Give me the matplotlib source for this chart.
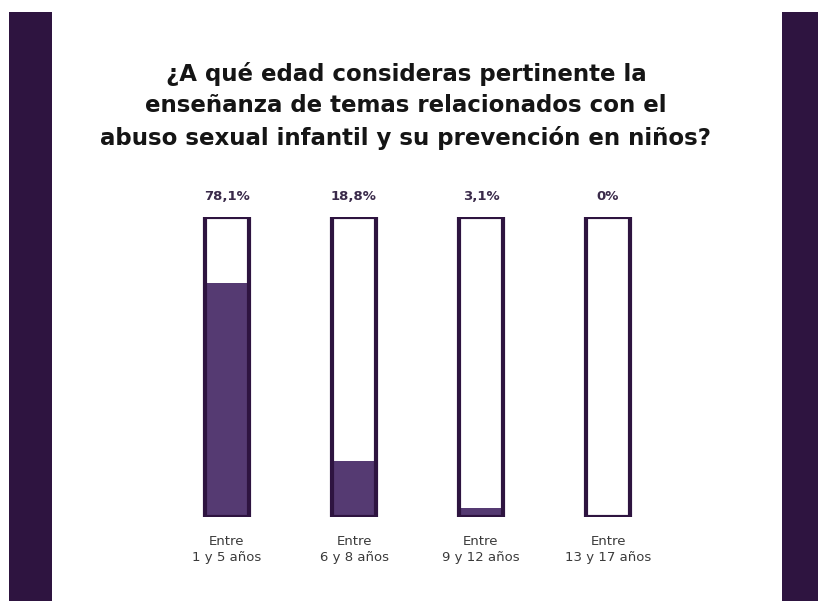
import matplotlib.pyplot as plt
from matplotlib.patches import Rectangle

categories = ["Entre\n1 y 5 años", "Entre\n6 y 8 años", "Entre\n9 y 12 años", "Entre\n13 y 17 años"]
values = [78.1, 18.8, 3.1, 0]
value_labels = ["78,1%", "18,8%", "3,1%", "0%"]
title = "¿A qué edad consideras pertinente la\nenseñanza de temas relacionados con el\nabuso sexual infantil y su prevención en niños?"

dark = "#2e1440"
fill = "#553a72"

W, H = 818, 601
fig = plt.figure(figsize=(W / 100, H / 100), dpi=100)
fig.patch.set_facecolor("white")

# side bands
fig.patches.append(Rectangle((9 / W, 0), 43 / W, (H - 12) / H, transform=fig.transFigure,
                             facecolor=dark, edgecolor="none"))
fig.patches.append(Rectangle((782 / W, 0), 36 / W, (H - 12) / H, transform=fig.transFigure,
                             facecolor=dark, edgecolor="none"))

fig.text(406 / W, 1 - 62 / H, title, ha="center", va="top", fontsize=16.5,
         fontweight="bold", family="DejaVu Sans", color="#151515", linespacing=1.45)

# bars area
step = 127
left = 227 - step / 2
ax = fig.add_axes([left / W, 84 / H, 4 * step / W, 300 / H])
ax.set_xlim(-0.5, 3.5)
ax.set_ylim(0, 100)
ax.axis("off")

x = range(len(values))
bw = 0.35
ax.bar(x, [100] * len(values), width=bw, color="white", edgecolor="none")
ax.bar(x, values, width=bw, color=fill, edgecolor="none")
ax.bar(x, [100] * len(values), width=bw, color="none", edgecolor=dark, linewidth=3)

for i, (lab, cat) in enumerate(zip(value_labels, categories)):
    ax.annotate(lab, (i, 100), xytext=(0, 10), textcoords="offset points",
                ha="center", va="bottom", fontsize=9.5, fontweight="bold", color="#3a2a4a")
    ax.annotate(cat, (i, 0), xytext=(0, -13), textcoords="offset points",
                ha="center", va="top", fontsize=9.5, color="#3a3a3a", linespacing=1.25)

fig.savefig("out.png", dpi=100)
